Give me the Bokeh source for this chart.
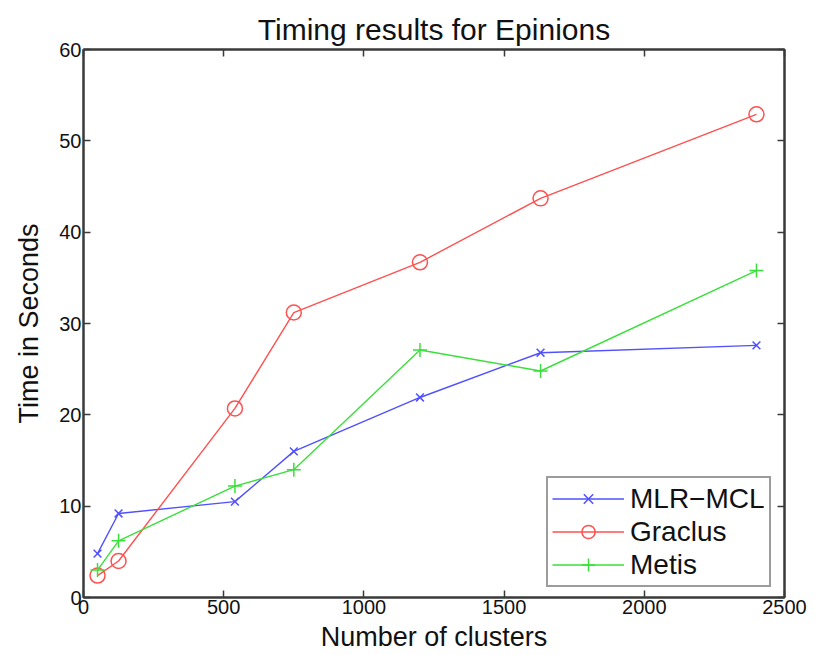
from bokeh.plotting import figure
from bokeh.models import Range1d, LinearAxis, FixedTicker, Legend
from bokeh.embed import file_html
from bokeh.resources import INLINE

# Data
clusters = [50, 125, 540, 750, 1200, 1630, 2400]
mlr_mcl = [4.8, 9.2, 10.5, 16.0, 21.9, 26.8, 27.6]
graclus = [2.4, 4.0, 20.7, 31.2, 36.7, 43.7, 52.9]
metis = [3.0, 6.2, 12.2, 14.0, 27.1, 24.8, 35.8]

x_ticks = [0, 500, 1000, 1500, 2000, 2500]
y_ticks = [0, 10, 20, 30, 40, 50, 60]

FONT = "Liberation Sans"
AX = "#3a3a3a"

p = figure(width=825, height=655, output_backend="svg", toolbar_location=None,
           x_range=Range1d(0, 2500), y_range=Range1d(0, 60),
           title="Timing results for Epinions")
p.min_border_left = 83
p.min_border_right = 41
p.min_border_top = 49
p.min_border_bottom = 58
p.background_fill_color = "white"
p.border_fill_color = "white"
p.outline_line_color = AX
p.outline_line_width = 2
p.xgrid.visible = False
p.ygrid.visible = False

p.title.text_font = FONT
p.title.text_font_size = "30px"
p.title.text_font_style = "normal"
p.title.text_color = "#111111"
p.title.align = "center"
p.title.vertical_align = "top"
p.title.standoff = 4

for ax, ticks, lab, std in ((p.xaxis[0], x_ticks, "Number of clusters", 5),
                            (p.yaxis[0], y_ticks, "Time in Seconds", 12)):
    ax.ticker = FixedTicker(ticks=ticks)
    ax.axis_label = lab
    ax.axis_label_text_font = FONT
    ax.axis_label_text_font_size = "27px"
    ax.axis_label_text_font_style = "normal"
    ax.axis_label_text_color = "#111111"
    ax.axis_label_standoff = std
    ax.major_label_text_font = FONT
    ax.major_label_text_font_size = "20px"
    ax.major_label_text_color = "#111111"
    ax.major_label_standoff = 2
    ax.major_tick_in = 7
    ax.major_tick_out = 0
    ax.minor_tick_line_color = None
    ax.axis_line_color = AX
    ax.axis_line_width = 2
    ax.major_tick_line_color = AX
    ax.major_tick_line_width = 1.5

top = LinearAxis(ticker=FixedTicker(ticks=x_ticks), major_label_text_color=None,
                 major_label_text_font_size="1px", major_tick_in=7, major_tick_out=0,
                 minor_tick_line_color=None, axis_line_color=AX, axis_line_width=2,
                 major_tick_line_color=AX, major_tick_line_width=1.5,
                 major_label_standoff=0)
right = LinearAxis(ticker=FixedTicker(ticks=y_ticks), major_label_text_color=None,
                   major_label_text_font_size="1px", major_tick_in=7, major_tick_out=0,
                   minor_tick_line_color=None, axis_line_color=AX, axis_line_width=2,
                   major_tick_line_color=AX, major_tick_line_width=1.5,
                   major_label_standoff=0)
p.add_layout(top, "above")
p.add_layout(right, "right")

BLUE = "#5050ff"
RED = "#ff5050"
GREEN = "#3ae03a"

r1l = p.line(clusters, mlr_mcl, line_color=BLUE, line_width=1.4)
r1m = p.scatter(clusters, mlr_mcl, marker="x", size=11, line_color=BLUE, line_width=1.5)
r2l = p.line(clusters, graclus, line_color=RED, line_width=1.4)
r2m = p.scatter(clusters, graclus, marker="circle", size=15, line_color=RED,
                fill_color=None, line_width=1.5)
r3l = p.line(clusters, metis, line_color=GREEN, line_width=1.4)
r3m = p.scatter(clusters, metis, marker="cross", size=14, line_color=GREEN, line_width=1.5)

legend = Legend(items=[("MLR\u2212MCL", [r1l, r1m]),
                       ("Graclus", [r2l, r2m]),
                       ("Metis", [r3l, r3m])],
                location=(463, 10))
legend.label_text_font = FONT
legend.label_text_font_size = "28px"
legend.label_text_color = "#111111"
legend.glyph_width = 72
legend.glyph_height = 33
legend.label_height = 33
legend.label_standoff = 6
legend.spacing = 0
legend.padding = 4
legend.margin = 0
legend.border_line_color = AX
legend.border_line_width = 2
legend.background_fill_color = "white"
legend.background_fill_alpha = 1.0
p.add_layout(legend, "center")

open("out.html", "w").write(file_html(p, INLINE))
